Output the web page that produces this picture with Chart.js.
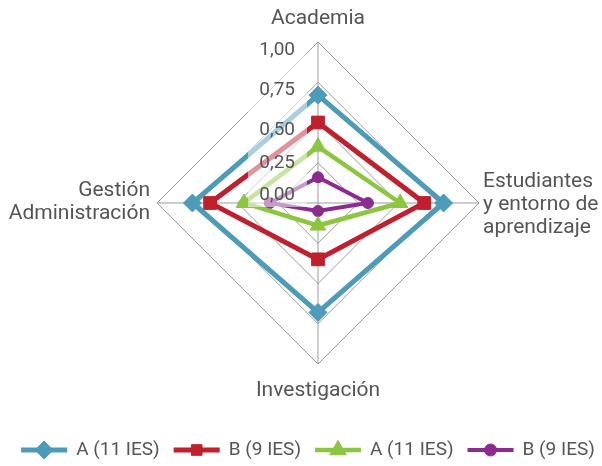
<!DOCTYPE html>
<html>
<head>
<meta charset="utf-8">
<script src="https://cdn.jsdelivr.net/npm/chart.js@4/dist/chart.umd.min.js"></script>
<style>
    html, body { margin: 0; padding: 0; background: #fff; }
    #wrap { width: 602px; height: 466px; }
</style>
</head>
<body>
<div id="wrap"><canvas id="chartCanvas"></canvas></div>
<script>
var categories = [['Academia'], ['Estudiantes', 'y entorno de', 'aprendizaje'], ['Investigación'], ['Gestión', 'Administración']];
var seriesNames = ['A (11 IES)', 'B (9 IES)', 'A (11 IES)', 'B (9 IES)'];
var blueValues = [0.67, 0.78, 0.68, 0.78];
var redValues = [0.50, 0.66, 0.35, 0.67];
var greenValues = [0.35, 0.51, 0.14, 0.46];
var purpleValues = [0.16, 0.31, 0.05, 0.30];
var tickValues = [0, 0.25, 0.5, 0.75, 1];
var tickLabels = ['0,00', '0,25', '0,50', '0,75', '1,00'];

var textColor = '#555';
var fontFamily = 'Roboto, sans-serif';

var styles = [
    { color: '#4b9bb9', point: 'rectRot', radius: 9, legendRadius: 9, width: 5 },
    { color: '#c01f2e', point: 'rect', radius: 9, legendRadius: 7.5, width: 5 },
    { color: '#8cc63f', point: 'triangle', radius: 9, legendRadius: 9.5, width: 4.5 },
    { color: '#8b2b8f', point: 'circle', radius: 5.5, legendRadius: 6, width: 4 }
];
var allValues = [blueValues, redValues, greenValues, purpleValues];

var datasets = allValues.map(function (vals, i) {
    var s = styles[i];
    return {
        label: seriesNames[i],
        data: vals,
        borderColor: s.color,
        backgroundColor: s.color,
        borderWidth: s.width,
        fill: false,
        pointStyle: s.point,
        pointRadius: s.radius,
        pointBorderWidth: 1,
        pointBackgroundColor: s.color,
        pointBorderColor: s.color
    };
});

var labelPlugin = {
    id: 'radarText',
    afterDatasetsDraw: function (chart) {
        var ctx = chart.ctx;
        var r = chart.scales.r;
        var xc = r.xCenter, yc = r.yCenter;
        var top = yc - r.getDistanceFromCenterForValue(1);
        ctx.save();
        // washed box behind the tick labels
        ctx.fillStyle = 'rgba(255,255,255,0.52)';
        ctx.fillRect(xc - 70, top - 4, 59, yc - top + 8);
        ctx.fillStyle = textColor;
        ctx.font = '19px ' + fontFamily;
        ctx.textAlign = 'right';
        ctx.textBaseline = 'middle';
        tickValues.forEach(function (v, i) {
            var y = yc - r.getDistanceFromCenterForValue(v) + Math.min(8, -8 + 32 * v);
            ctx.fillText(tickLabels[i], xc - 23, y);
        });
        ctx.restore();
    },
    afterDraw: function (chart) {
        var ctx = chart.ctx;
        var r = chart.scales.r;
        var out = r.drawingArea;
        ctx.save();
        ctx.fillStyle = textColor;
        ctx.font = '21px ' + fontFamily;
        ctx.textBaseline = 'middle';
        categories.forEach(function (lines, i) {
            var p = r.getPointPosition(i, out);
            var lh = 23, y0, x;
            if (i === 0) {
                ctx.textAlign = 'center'; x = p.x; y0 = p.y - 23;
            } else if (i === 1) {
                ctx.textAlign = 'left'; x = p.x + 4; y0 = p.y - 21;
            } else if (i === 2) {
                ctx.textAlign = 'center'; x = p.x; y0 = p.y + 27;
            } else {
                ctx.textAlign = 'right'; x = p.x - 7; y0 = p.y - 12;
            }
            lines.forEach(function (t, k) {
                ctx.fillText(t, x, y0 + k * lh);
            });
        });

        // legend: line with marker, then the series name
        ctx.font = '19px ' + fontFamily;
        ctx.textAlign = 'left';
        var lineW = 46, gap = 9, itemGap = 14, ly = 450;
        var total = 0;
        chart.data.datasets.forEach(function (ds, i) {
            total += lineW + gap + ctx.measureText(ds.label).width;
            if (i > 0) total += itemGap;
        });
        var x = 308 - total / 2;
        chart.data.datasets.forEach(function (ds, i) {
            var s = styles[i];
            ctx.strokeStyle = s.color;
            ctx.fillStyle = s.color;
            ctx.lineWidth = s.width;
            ctx.beginPath();
            ctx.moveTo(x, ly);
            ctx.lineTo(x + lineW, ly);
            ctx.stroke();
            ctx.lineWidth = 1;
            Chart.helpers.drawPoint(ctx, { pointStyle: s.point, radius: s.legendRadius, borderWidth: 1, rotation: 0 }, x + lineW / 2, ly);
            x += lineW + gap;
            ctx.fillStyle = textColor;
            ctx.fillText(ds.label, x, ly);
            x += ctx.measureText(ds.label).width + itemGap;
        });
        ctx.restore();
    }
};

var ctx = document.getElementById('chartCanvas').getContext('2d');
var myChart = new Chart(ctx, {
    type: 'radar',
    data: {
        labels: categories.map(function (l) { return l.join(' '); }),
        datasets: datasets
    },
    options: {
        responsive: true,
        maintainAspectRatio: false,
        animation: false,
        layout: {
            padding: { top: 42, left: 157, right: 123, bottom: 102 }
        },
        elements: {
            line: { tension: 0 }
        },
        scales: {
            r: {
                min: 0,
                max: 1,
                ticks: { stepSize: 0.25, display: false },
                grid: { color: '#9b9b9b', lineWidth: 1 },
                angleLines: { color: '#9b9b9b', lineWidth: 1 },
                pointLabels: { display: false }
            }
        },
        plugins: {
            legend: { display: false },
            tooltip: { enabled: false }
        }
    },
    plugins: [labelPlugin]
});
</script>
</body>
</html>
